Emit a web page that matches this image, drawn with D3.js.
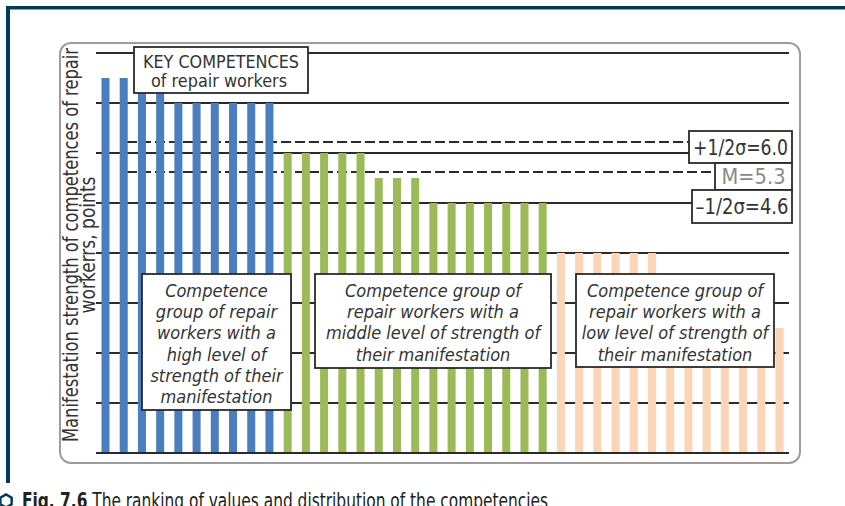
<!DOCTYPE html>
<html><head><meta charset="utf-8">
<script src="https://cdn.jsdelivr.net/npm/d3@7/dist/d3.min.js"></script>
<style>
html,body{margin:0;padding:0;background:#fff;}
svg{display:block;}
.narrow{font-family:'DejaVu Sans Condensed','DejaVu Sans',sans-serif;font-stretch:condensed;}
.cond{font-family:'DejaVu Sans Condensed','DejaVu Sans',sans-serif;font-stretch:condensed;}
</style></head>
<body>
<svg id="chart" width="845" height="506"></svg>
<script>
// ---- data ----
const highValues   = [7.5, 7.5, 7.5, 7.5, 7, 7, 7, 7, 7, 7];
const middleValues = [6, 6, 6, 6, 6, 5.5, 5.5, 5.5, 5, 5, 5, 5, 5, 5, 5];
const lowValues    = [4, 4, 4, 4, 4, 4, 3.5, 3.5, 3.5, 3, 3, 3, 2.5];
const groupNames   = ["high", "middle", "low"];
const groupColors  = ["#4a7ebf", "#9bbb59", "#fbd5b5"];
const refLevels    = [6.22, 5.62, 5.0];
const refLabels    = ["+1/2σ=6.0", "M=5.3", "–1/2σ=4.6"];
const gridTicks    = [0, 1, 2, 3, 4, 5, 6, 7, 8];
const groupTexts = [
  ["Competence", "group of repair", "workers with a", "high level of", "strength of their", "manifestation"],
  ["Competence group of", "repair workers with a", "middle level of strength of", "their manifestation"],
  ["Competence group of", "repair workers with a", "low level of strength of", "their manifestation"]
];
const titleLines = ["KEY COMPETENCES", "of repair workers"];
const yTitleLines = ["Manifestation strength of competences of repair", "workerrs, points"];
const captionBold = "Fig. 7.6";
const captionText = " The ranking of values and distribution of the competencies";

const bars = [];
[highValues, middleValues, lowValues].forEach((arr, gi) =>
  arr.forEach(v => bars.push({rank: bars.length + 1, value: v, group: gi})));
const categories = bars.map(d => d.rank);

// ---- layout ----
const svg = d3.select("#chart");
const navy = "#003b5c", ink = "#333";
const x = d3.scaleBand().domain(categories).range([96.4, 788.6]).paddingInner(0.56).paddingOuter(0.28);
const y = d3.scaleLinear().domain([0, 8]).range([453, 53]);

// frame
svg.append("rect").attr("x", 6).attr("y", 6).attr("width", 839).attr("height", 3.5).attr("fill", navy);
svg.append("rect").attr("x", 6).attr("y", 6).attr("width", 4).attr("height", 477).attr("fill", navy);
svg.append("rect").attr("x", 60).attr("y", 43).attr("width", 740).attr("height", 420)
  .attr("rx", 11).attr("fill", "#fff").attr("stroke", "#9d9d9d").attr("stroke-width", 2);

// gridlines
svg.append("g").selectAll("line").data(gridTicks).join("line")
  .attr("x1", 96).attr("x2", 789).attr("y1", d => y(d)).attr("y2", d => y(d))
  .attr("stroke", "#2a2a2a").attr("stroke-width", 1.8);

// reference lines
const labelBoxes = [
  {x: 689, w: 103, y: 131, h: 32},
  {x: 715, w: 77, y: 163, h: 27},
  {x: 692, w: 100, y: 190, h: 33}
];
svg.append("g").selectAll("line").data(refLevels).join("line")
  .attr("x1", 127).attr("x2", (d, i) => labelBoxes[i].x).attr("y1", d => y(d)).attr("y2", d => y(d))
  .attr("stroke", "#2a2a2a").attr("stroke-width", 2).attr("stroke-dasharray", "10,4");

// bars
svg.append("g").selectAll("rect").data(bars).join("rect")
  .attr("x", d => x(d.rank)).attr("width", x.bandwidth())
  .attr("y", d => y(d.value)).attr("height", d => y(0) - y(d.value))
  .attr("fill", d => groupColors[d.group]);

// baseline
svg.append("line").attr("x1", 96).attr("x2", 789).attr("y1", y(0)).attr("y2", y(0))
  .attr("stroke", "#2a2a2a").attr("stroke-width", 2);

// reference labels
const lg = svg.append("g");
refLabels.forEach((t, i) => {
  const b = labelBoxes[i];
  lg.append("rect").attr("x", b.x).attr("y", b.y).attr("width", b.w).attr("height", b.h)
    .attr("fill", "#fff").attr("stroke", "#2a2a2a").attr("stroke-width", 1.8);
  lg.append("text").attr("class", "cond").attr("x", b.x + b.w / 2).attr("y", b.y + b.h / 2 + 7.5)
    .attr("text-anchor", "middle").attr("font-size", 21)
    .attr("textLength", [95, 64, 93][i]).attr("lengthAdjust", "spacingAndGlyphs")
    .attr("fill", i === 1 ? "#8a8a8a" : ink).text(t);
});

// title box
svg.append("rect").attr("x", 134).attr("y", 47).attr("width", 174).attr("height", 46)
  .attr("fill", "#fff").attr("stroke", "#2a2a2a").attr("stroke-width", 1.8);
svg.append("text").attr("class", "narrow").attr("x", 221).attr("y", 68).attr("text-anchor", "middle")
  .attr("font-size", 18.5).attr("textLength", 156).attr("lengthAdjust", "spacingAndGlyphs")
  .attr("fill", ink).text(titleLines[0]);
svg.append("text").attr("class", "narrow").attr("x", 219).attr("y", 86.5).attr("text-anchor", "middle")
  .attr("font-size", 18.5).attr("textLength", 136).attr("lengthAdjust", "spacingAndGlyphs")
  .attr("fill", ink).text(titleLines[1]);

// group boxes
const groupBoxes = [
  {x: 142, y: 274, w: 149, h: 136},
  {x: 315, y: 274, w: 236, h: 94},
  {x: 576, y: 274, w: 198, h: 93}
];
groupTexts.forEach((lines, gi) => {
  const b = groupBoxes[gi];
  svg.append("rect").attr("x", b.x).attr("y", b.y).attr("width", b.w).attr("height", b.h)
    .attr("fill", "#fff").attr("stroke", "#2a2a2a").attr("stroke-width", 1.8);
  const t = svg.append("text").attr("class", "cond").attr("font-style", "italic")
    .attr("font-size", 18).attr("fill", ink).attr("text-anchor", "middle");
  lines.forEach((l, li) => t.append("tspan").attr("x", b.x + b.w / 2).attr("y", 297 + li * 21.2).text(l));
});

// y title
const yt = svg.append("g").attr("transform", "translate(0,245) rotate(-90)");
yt.append("text").attr("class", "narrow").attr("font-size", 21.5).attr("fill", ink)
  .attr("text-anchor", "middle").attr("x", 0).attr("y", 78)
  .attr("textLength", 394).attr("lengthAdjust", "spacingAndGlyphs").text(yTitleLines[0]);
yt.append("text").attr("class", "narrow").attr("font-size", 21.5).attr("fill", ink)
  .attr("text-anchor", "middle").attr("x", 0).attr("y", 95)
  .attr("textLength", 137).attr("lengthAdjust", "spacingAndGlyphs").text(yTitleLines[1]);

// caption
const hex = d3.range(6).map(i => [6 + 6.5 * Math.cos(Math.PI / 3 * i + Math.PI / 6), 501 + 6.5 * Math.sin(Math.PI / 3 * i + Math.PI / 6)]);
svg.append("path").attr("d", d3.line()(hex) + "Z").attr("fill", "none").attr("stroke", navy).attr("stroke-width", 2.5);
const cap = svg.append("text").attr("class", "narrow").attr("x", 22).attr("y", 508).attr("font-size", 21)
  .attr("fill", "#222").attr("textLength", 526).attr("lengthAdjust", "spacingAndGlyphs");
cap.append("tspan").attr("font-weight", "bold").text(captionBold);
cap.append("tspan").text(captionText);
</script>
</body></html>
